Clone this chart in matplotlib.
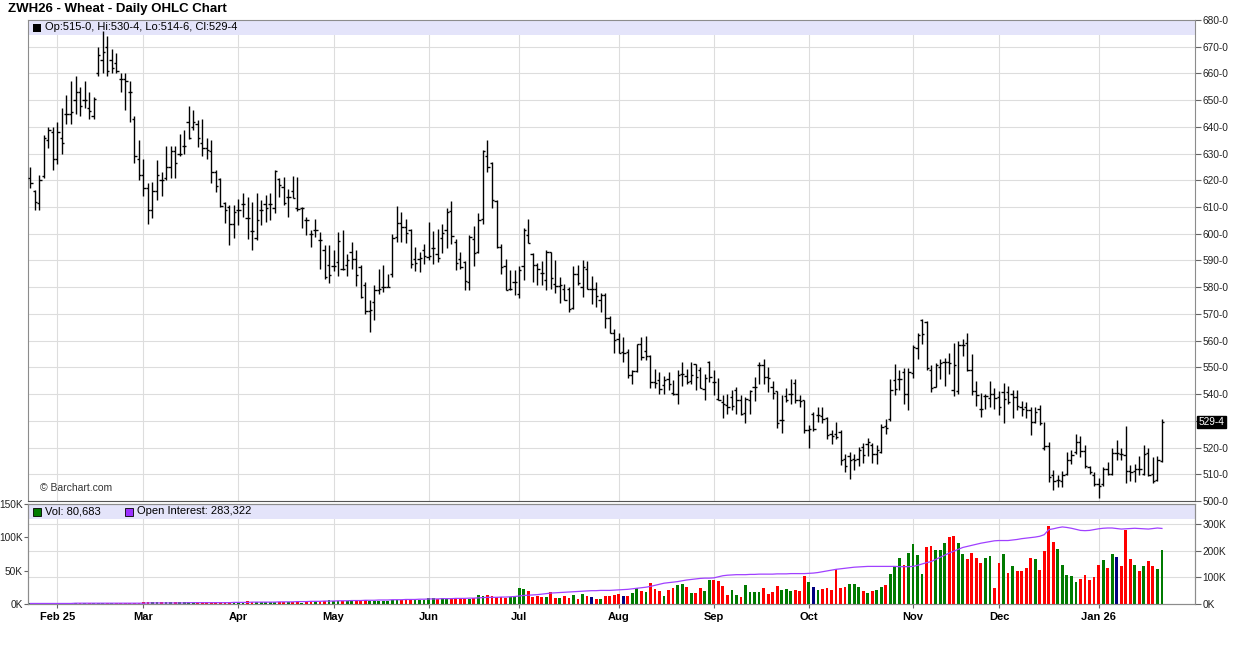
import matplotlib
matplotlib.use('Agg')
import matplotlib.pyplot as plt
from matplotlib.patches import Rectangle
from matplotlib.transforms import blended_transform_factory
import numpy as np
import pandas as pd

plt.rcParams['font.family'] = ['Liberation Sans', 'DejaVu Sans']

# trading calendar (CBOT holidays in range)
holidays = ['2025-02-17', '2025-04-18', '2025-05-26', '2025-06-19', '2025-07-04',
            '2025-09-01', '2025-11-27', '2025-12-25', '2026-01-01', '2026-01-19']
dates = pd.bdate_range('2025-01-24', '2026-01-23', freq='C', holidays=holidays)
month_labels = ['Feb 25', 'Mar', 'Apr', 'May', 'Jun', 'Jul', 'Aug', 'Sep', 'Oct',
                'Nov', 'Dec', 'Jan 26']

opens = [
    621, 616, 611.5, 621.5, 635, 638, 628, 636, 645, 645,
    650, 653, 650, 647, 644, 660, 665, 670, 665, 664,
    658, 658, 653, 643, 628, 622, 617, 609, 616, 620,
    621, 625, 631, 630, 633, 642, 640, 641, 634, 632,
    631, 623, 620.5, 611.5, 610, 603.6, 609, 611, 606, 601,
    598.6, 609, 611, 611, 609.5, 620.4, 617.4, 613.9, 616.1, 609.5,
    609.5, 605.1, 599.9, 601.4, 597.6, 593.9, 588.2, 587.9, 589.5, 587,
    588.2, 593.2, 590.7, 587.6, 581, 571.1, 574.5, 579.1, 579.9, 580.1,
    585.1, 598.8, 604.2, 602.6, 601.6, 590.7, 590.7, 593.8, 591.3, 594.5,
    592.3, 598.6, 601.3, 608.6, 596.9, 590.7, 589.4, 582, 598.2, 593,
    605.7, 629.1, 626.6, 612.2, 595.1, 587.8, 579.4, 582, 577.6, 587.8,
    599.4, 592.6, 588.2, 585.3, 582.6, 593, 581.3, 580.4, 579.4, 579.4,
    572.3, 584.8, 580.2, 586.7, 579.5, 579.5, 575.4, 577, 568.3, 562.7,
    560.8, 555.8, 555.8, 547, 548.5, 558.9, 556.2, 554.2, 544.5, 545.2,
    543.3, 545.8, 540.4, 539.9, 547.7, 546.7, 544.9, 551.2, 548.9, 542,
    552, 544.5, 538.3, 537, 535.8, 538.9, 541.4, 537.7, 532.9, 537.7,
    542.7, 550.8, 550.8, 546.4, 542.7, 541.2, 530.2, 539.3, 540, 544.2,
    537.7, 537.7, 526.5, 532.7, 532.1, 531.7, 531.2, 525, 525, 525.8,
    515.8, 516.7, 515.8, 515.8, 520.2, 521.2, 520.8, 517.5, 518.3, 527.9,
    530.5, 545.2, 545.5, 548.3, 540.2, 548, 557.1, 567.7, 567.1, 549.2,
    542.5, 550.2, 552.1, 552.1, 541.5, 541.2, 558.3, 559, 549.2, 541.2,
    534.6, 539.2, 538.4, 540.2, 538.8, 540.9, 540.9, 540.2, 539, 535,
    535.2, 534.2, 529.5, 534.6, 520, 520.5, 509.6, 507.7, 507.5, 510.2,
    515.2, 518.4, 522.1, 518.7, 512.7, 509.6, 506.2, 506.2, 512.1, 510.2,
    518, 517.5, 517.1, 511.2, 511.2, 512.1, 510.2, 518, 510.2, 508,
    515.0]

highs = [
    625, 616.5, 622, 637, 640, 640, 642, 647, 652, 657,
    659, 655, 657, 653, 651, 670, 676, 674, 669, 667.5,
    660, 660, 657, 644, 635, 628, 619, 619.5, 627.5, 623,
    633, 633, 633, 637.5, 639, 648, 646.5, 642.5, 643, 636,
    635, 624, 621, 612, 610.7, 610.7, 612.9, 615.4, 613.9, 612,
    615.4, 612.6, 614.5, 615.4, 623.8, 620.7, 621.4, 616.6, 621.6, 621.4,
    610.1, 606.4, 601.6, 605.4, 600.7, 595.7, 595.7, 593.9, 600.7, 601.4,
    592.6, 597, 594.1, 588.2, 582, 575.1, 580.7, 587, 588.2, 585.1,
    599.9, 610.3, 608.2, 605.7, 601.9, 595.1, 593.2, 596.3, 604.4, 601.1,
    601.9, 603.8, 609.5, 612.2, 598.2, 593.2, 589.8, 599.4, 602.8, 607.6,
    631.3, 635.1, 626.9, 612.6, 596.3, 590.7, 586.3, 586.3, 587.8, 602.3,
    605.7, 592.8, 589, 589.8, 593.8, 593.2, 590.3, 583.8, 581.3, 580.1,
    587.8, 588.3, 590.2, 589.8, 584.2, 582, 577.9, 577.9, 569.2, 564.5,
    562.9, 561.4, 557, 549, 558.9, 561.4, 561.7, 554.5, 549.5, 548.3,
    546.7, 548.3, 545.2, 548.9, 552, 549.5, 552, 551.4, 550.2, 547.7,
    552.4, 548.9, 546.2, 539.5, 540.2, 541.4, 542.7, 539.5, 538.9, 541.4,
    546.4, 552, 553.3, 550.2, 545, 541.2, 539.6, 542.1, 545.5, 545.5,
    539.8, 537.9, 528.3, 533.3, 535.2, 535.2, 531.5, 526.7, 529.6, 526.5,
    517.7, 518.3, 517.5, 520.2, 521.7, 523.7, 521.7, 520.8, 528.7, 530.5,
    545.5, 551.2, 549.2, 549.6, 549.6, 558.3, 562.7, 568, 567.5, 550.8,
    551.5, 553, 553.7, 555.5, 559, 560, 560.5, 563, 555, 545,
    540.5, 540.2, 545, 542.1, 541.2, 544.2, 543, 541.7, 541.7, 537.5,
    537.1, 535, 535, 535.9, 529.5, 522.1, 511.5, 509.6, 511.2, 518.4,
    519, 525, 524.2, 520.9, 513, 510.9, 508.7, 512.7, 514.6, 520,
    522.8, 520, 528, 513.4, 513.7, 516.7, 520.9, 520, 516.5, 516.7,
    530.5]

lows = [
    617, 609, 609, 621, 632, 624, 626, 630, 641, 641,
    645, 644, 647, 643, 643, 659, 660, 659, 660, 660,
    653, 646.5, 642, 626.5, 620, 614, 603.5, 606, 612.5, 614,
    620, 621, 621, 629, 630, 635.5, 639, 632.5, 629, 628,
    619, 615.5, 610, 604, 595.7, 598.5, 603.2, 606.4, 598.2, 593.8,
    597.6, 603.2, 604.5, 605.1, 607.6, 613.6, 610.7, 606.4, 613.5, 608.6,
    602.3, 599.5, 595.1, 598.9, 587, 582.9, 581.6, 586.1, 584.1, 586.4,
    584.1, 587, 580.4, 576.1, 570.1, 563.2, 567.6, 577.4, 578.2, 579.9,
    583.9, 597, 597, 596.6, 587.3, 586.1, 585.7, 588.6, 590.3, 588.6,
    589.5, 592.8, 594.5, 596.3, 586.6, 587, 579.1, 579.1, 588, 592.8,
    603.8, 623.2, 609.5, 594.5, 584.8, 579.1, 578.8, 577, 576, 582.8,
    596.6, 582, 580.7, 580.7, 578.8, 579.4, 577.8, 574.1, 575.1, 570.7,
    572, 580.8, 576.2, 579.3, 573.9, 572.7, 570.8, 564.9, 562.7, 555.2,
    555.2, 552, 546.2, 543.7, 548.3, 552.9, 552.7, 542.4, 542.4, 539.9,
    539.9, 541.4, 539.5, 536.4, 542.9, 543.7, 543.7, 541.7, 542.1, 537.9,
    544.5, 539.5, 537.7, 531.2, 532.7, 533.9, 532.4, 532, 529.2, 532.4,
    537.4, 543.9, 543.7, 540.8, 538, 527.5, 525.5, 537.1, 536.2, 536.7,
    535, 525.5, 520, 526.2, 529.6, 529.2, 523.3, 521.5, 523.3, 513.3,
    510.8, 508.3, 511.7, 513, 514.2, 516.7, 514.2, 514, 518, 525,
    530, 539.6, 541.7, 536.2, 534.2, 546.2, 553, 558.7, 549.2, 540.8,
    542.5, 545.8, 543, 547.5, 539.2, 540.2, 554.2, 548.7, 539.6, 535.5,
    531.5, 534.6, 535.2, 534.6, 532.1, 529.2, 536.2, 531.2, 534, 531.7,
    531.2, 524.6, 529.2, 528.4, 519.2, 507, 504, 505.2, 505.2, 509.6,
    513.7, 517.5, 516.5, 512.5, 510.2, 505.5, 501.2, 505.5, 509.6, 509.6,
    515.5, 515.2, 506.7, 507.5, 507.1, 509.6, 509.6, 509.2, 506.7, 507.5,
    514.75]

closes = [
    619, 612, 620, 636, 639, 628, 638, 634, 645, 645.5,
    653, 648, 650, 646, 650.5, 667, 668, 661, 662, 661,
    658, 657, 653, 629, 622, 617, 609, 616, 622, 620,
    625, 631, 626.5, 630, 633, 636, 642, 636, 632, 631.5,
    623, 618, 610.5, 609, 603.6, 608.2, 609, 611, 606, 601,
    605, 609, 609.5, 611, 623.5, 618.2, 611.4, 613.9, 613.5, 609.1,
    609.5, 605.1, 599.9, 601.6, 597.6, 583.9, 584.5, 587.9, 597.3, 587,
    590, 590.5, 584.5, 576.3, 571.1, 571.4, 579.1, 579.5, 579.9, 580.1,
    598.6, 604.2, 602.6, 600.4, 588.6, 589, 591, 591.5, 591.6, 594.5,
    591, 600.3, 608.2, 599.1, 589, 587.6, 582.3, 598.8, 592.8, 605,
    630.9, 625, 612.6, 595.1, 587.6, 579.1, 579.5, 582, 586.6, 601.3,
    596.6, 588.2, 587, 585.3, 593, 583.6, 580.4, 580.7, 575.3, 572,
    584.8, 581.4, 587.7, 579.3, 579.3, 576.7, 577, 568.3, 562.9, 560.4,
    555.4, 555.4, 547, 548.5, 558.7, 553.9, 554.2, 544.5, 544.2, 542,
    545.2, 543.9, 540.2, 547, 547.5, 544.5, 547, 546.4, 542.4, 546,
    546.4, 544.5, 537.7, 536.2, 535.2, 535.5, 537.7, 532.4, 538.3, 541.2,
    542.7, 550.8, 546.4, 546, 540.4, 529.2, 530.2, 537.7, 540, 537.7,
    537.5, 526.7, 527.1, 527.1, 532.1, 530.5, 524.6, 524.2, 524, 515.2,
    513, 515.2, 515.5, 519.2, 517.1, 522.1, 517.7, 519.2, 527.7, 527.5,
    541.7, 542, 545.5, 540.2, 548.3, 557.7, 562.1, 562.5, 549.6, 542.1,
    550.8, 551.5, 552.1, 551.5, 551, 558.3, 558.5, 549.2, 541.2, 539.6,
    534.6, 539.2, 540.2, 538.4, 535.2, 538, 537.1, 539, 535.5, 534.6,
    534.2, 529.5, 533.4, 529.2, 520.5, 509, 507.5, 507.7, 509.6, 515.5,
    517.1, 522.1, 518.7, 513, 510.9, 506.2, 505.5, 512.1, 510.2, 518,
    518, 517.5, 511.2, 511, 512.1, 511.8, 517.7, 509.6, 507.5, 515.2,
    529.5]

# volume, thousands of contracts
volume_k = [
    1, 1, 1, 1, 1, 1, 1, 1, 1.5, 1.5,
    1, 1, 1, 1, 2, 2, 2, 1.5, 2, 2,
    2, 2, 2, 2, 2, 3.5, 3.5, 3.5, 3, 3,
    3, 2.5, 3, 3, 3.5, 3, 3, 2.5, 3, 3,
    3, 3, 3.5, 3, 3, 3.5, 3.5, 3, 5, 3.5,
    3.5, 3.5, 3, 3.5, 3.5, 2.5, 2.5, 3, 2.5, 2.5,
    2, 2.5, 3, 4, 4, 4.5, 6.5, 4, 4, 4.5,
    4, 6, 6, 5.5, 6, 5, 5, 4.5, 5, 5,
    6, 6, 6, 5.5, 6, 6, 6, 5.5, 8.5, 8.5,
    8, 8.5, 8, 7.5, 7.5, 7, 7.5, 8, 9, 14,
    12, 14, 12, 10, 10, 9.5, 10, 10, 24, 22.5,
    19.5, 11, 12.5, 10, 11, 17.5, 9.5, 9.5, 12.5, 9.5,
    14, 8, 15.5, 12.5, 11, 8, 8, 12.5, 12.5, 14,
    15.5, 12.5, 12.5, 17, 24, 20, 18.5, 31.5, 22.5, 19.5,
    12.5, 21.5, 24, 28, 30, 26, 16.5, 16.5, 24, 20,
    36.5, 36, 35, 27.5, 14, 21.5, 14, 11, 29, 18.5,
    18.5, 18.5, 24, 15.5, 18.5, 27.5, 21.5, 22.5, 20, 21.5,
    19, 42.5, 33, 26, 21.5, 22.5, 24, 21.5, 53, 24.5,
    26, 30, 30, 26, 19, 17, 19, 21, 26, 28.5,
    45, 57, 69, 58.5, 77, 90, 73.5, 45, 85.5, 87,
    81, 81, 91.5, 100.5, 102, 91.5, 75, 67.5, 77, 69,
    61.5, 69, 72, 24, 61.5, 75, 47, 57, 49.5, 49.5,
    54, 69, 67.5, 51, 79.5, 117, 93, 82.5, 58.5, 43.5,
    42, 33, 37.5, 43, 36, 40.5, 58.5, 66, 54, 75,
    70.5, 57, 111, 67.5, 58.5, 49.5, 57, 64.5, 57, 52.5,
    80.683]

# open interest, thousands of contracts
open_interest_k = [
    2, 2, 2, 2, 2, 2, 2, 2, 2, 2,
    3, 3, 3, 3, 3, 3, 3, 3, 3, 3,
    3, 3, 3, 3, 3, 3, 4, 4, 4, 4,
    4, 4, 4, 4, 4, 5, 5, 5, 5, 5,
    5, 5, 5, 5, 5, 6, 6, 6, 6, 7,
    7, 7, 7, 7, 7, 8, 8, 8, 8, 9,
    9, 9, 10, 10, 10, 11, 11, 11, 12, 12,
    12, 13, 13, 13, 14, 14, 14, 15, 15, 15,
    16, 16, 16, 17, 17, 17, 18, 18, 19, 19,
    19, 20, 20, 20, 21, 21, 21, 22, 22, 23,
    24, 25, 25, 25, 26, 26, 27, 28, 30, 32,
    33, 34, 35, 37, 39, 41, 42, 43, 44, 45,
    46, 47, 48, 49, 50, 50, 51, 51, 51, 52,
    53, 54, 55, 57, 59, 61, 63, 66, 70, 74,
    78, 80, 82, 84, 87, 90, 92, 94, 96, 97,
    97, 98, 102, 106, 108, 109, 110, 110, 110, 111,
    111, 112, 112, 112, 112, 113, 113, 113, 114, 114,
    114, 114, 115, 116, 118, 121, 124, 127, 130, 132,
    134, 136, 138, 139, 140, 141, 141, 141, 141, 141,
    141, 141, 140, 140, 140, 141, 145, 150, 155, 159,
    167, 175, 183, 191, 198, 205, 212, 216, 220, 224,
    228, 231, 234, 237, 238, 238, 238, 240, 242, 245,
    247, 249, 251, 254, 260, 279, 282, 286, 289, 287,
    284, 280, 276, 275, 276, 279, 282, 284, 285, 285,
    283, 281, 282, 283, 284, 283, 282, 281, 283, 285,
    283.322]

n = len(dates)
for arr in (opens, highs, lows, closes, volume_k, open_interest_k):
    assert len(arr) == n, (len(arr), n)


def eighths(v):
    whole = int(v)
    return f'{whole}-{int(round((v - whole) * 8))}'


x = np.arange(n)
month_idx = [i for i in range(1, n) if dates[i].month != dates[i - 1].month]

W, H = 1236, 645
def box(l, t, r, b):
    return [l / W, 1 - b / H, (r - l) / W, (b - t) / H]

fig = plt.figure(figsize=(12.36, 6.45), dpi=100)
ax = fig.add_axes(box(28, 20, 1195, 501))
axv = fig.add_axes(box(28, 504, 1195, 604))

grid_c = '#dddddd'
spine_c = '#8c8c8c'
band_c = '#e4e4fa'
tick_kw = dict(direction='out', width=0.8, labelsize=7.3, color='#666666',
               labelcolor='#222222')

# ---- price panel
ax.vlines(x, lows, highs, color='black', lw=1.0, zorder=3)
ax.hlines(opens, x - 0.5, x, color='black', lw=1.0, zorder=3)
ax.hlines(closes, x, x + 0.5, color='black', lw=1.0, zorder=3)
ax.set_xlim(-0.5, n + 6.3)
ax.set_ylim(500, 680)
yt = np.arange(500, 681, 10)
ax.set_yticks(yt)
# the last-price flag covers the nearest regular label
ax.set_yticklabels(['' if abs(v - closes[-1]) < 5 else f'{v}-0' for v in yt])
ax.yaxis.tick_right()
ax.tick_params(axis='y', length=4, pad=1.5, **tick_kw)
ax.set_xticks(month_idx)
ax.tick_params(axis='x', bottom=False, labelbottom=False)
ax.grid(True, color=grid_c, lw=0.8)
ax.set_axisbelow(True)
for s in ax.spines.values():
    s.set_color(spine_c)
ax.spines['bottom'].set_color('#555555')

band_h = 15 / 481
ax.add_patch(Rectangle((0, 1 - band_h), 1, band_h, transform=ax.transAxes,
                       facecolor=band_c, edgecolor='none', zorder=2))
ax.add_patch(Rectangle((5 / 1167, 1 - 12 / 481), 8 / 1167, 8 / 481,
                       transform=ax.transAxes, facecolor='black', zorder=4))
ax.text(17 / 1167, 1 - 7.5 / 481,
        f'Op:{eighths(opens[-1])}, Hi:{eighths(highs[-1])}, '
        f'Lo:{eighths(lows[-1])}, Cl:{eighths(closes[-1])}',
        transform=ax.transAxes, fontsize=8, va='center', ha='left', zorder=4)
ax.text(12 / 1167, 13 / 481, '© Barchart.com', transform=ax.transAxes,
        fontsize=7.5, va='center', ha='left', color='#333333')

trans = blended_transform_factory(ax.transAxes, ax.transData)
ax.text(1.003, closes[-1], eighths(closes[-1]), transform=trans, fontsize=7.3,
        color='white', va='center', ha='left', zorder=6, clip_on=False,
        bbox=dict(boxstyle='square,pad=0.12', facecolor='black', edgecolor='black'))

# ---- volume / open interest panel
chg = np.diff(np.concatenate([[closes[0] - 1], closes]))
vol_colors = ['#007a00' if c > 0 else ('#ff0000' if c < 0 else '#000080') for c in chg]
axv.bar(x, volume_k, width=0.62, color=vol_colors, zorder=3)
axv.set_xlim(ax.get_xlim())
axv.set_ylim(0, 150)
axv.set_yticks([0, 50, 100, 150])
axv.set_yticklabels(['0K', '50K', '100K', '150K'])
axv.tick_params(axis='y', length=3, pad=0.6, **tick_kw)
axv.set_xticks(month_idx)
axv.set_xticklabels(month_labels, fontsize=8, fontweight='bold')
axv.tick_params(axis='x', direction='out', length=3, pad=3, color='#666666')
axv.grid(True, axis='x', color=grid_c, lw=0.8)
axv.set_axisbelow(True)
oi_max = 375
for t in (100, 200, 300):
    axv.axhline(t * 150 / oi_max, color=grid_c, lw=0.8, zorder=0)
for s in axv.spines.values():
    s.set_color(spine_c)

vband = 15 / 100
axv.add_patch(Rectangle((0, 1 - vband), 1, vband, transform=axv.transAxes,
                        facecolor=band_c, edgecolor='none', zorder=2))
axv.add_patch(Rectangle((5 / 1167, 1 - 11.5 / 100), 8 / 1167, 8 / 100,
                        transform=axv.transAxes, facecolor='#007a00',
                        edgecolor='black', lw=0.6, zorder=4))
axv.text(17 / 1167, 1 - 7.5 / 100, f'Vol: {round(volume_k[-1] * 1000):,}',
         transform=axv.transAxes, fontsize=8, va='center', ha='left', zorder=4)
axv.add_patch(Rectangle((97 / 1167, 1 - 11.5 / 100), 8 / 1167, 8 / 100,
                        transform=axv.transAxes, facecolor='#9b30ff',
                        edgecolor='black', lw=0.6, zorder=4))
axv.text(109 / 1167, 1 - 7.5 / 100,
         f'Open Interest: {round(open_interest_k[-1] * 1000):,}',
         transform=axv.transAxes, fontsize=8, va='center', ha='left', zorder=4)

axo = axv.twinx()
axo.plot(x, open_interest_k, color='#a040ff', lw=0.9, zorder=4)
axo.set_ylim(0, oi_max)
axo.set_yticks([0, 100, 200, 300])
axo.set_yticklabels(['0K', '100K', '200K', '300K'])
axo.tick_params(axis='y', length=4, pad=1.5, **tick_kw)
for s in axo.spines.values():
    s.set_color(spine_c)

fig.text(8 / W, 1 - 9 / H, 'ZWH26 - Wheat - Daily OHLC Chart', fontsize=9.5,
         fontweight='bold', va='center', ha='left')

fig.savefig('out.png', dpi=100)
